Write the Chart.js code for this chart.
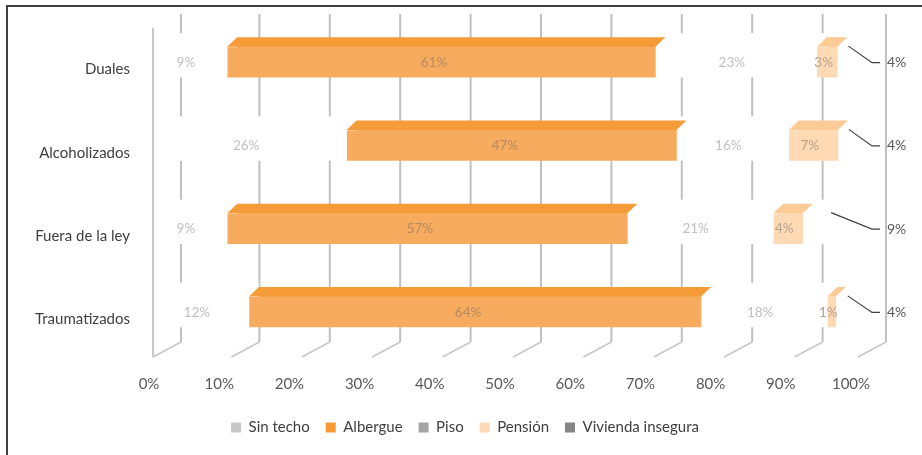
<!DOCTYPE html>
<html>
<head>
<meta charset="utf-8">
<script src="https://cdn.jsdelivr.net/npm/chart.js@4.4.0/dist/chart.umd.min.js"></script>
<style>
html,body{margin:0;padding:0;background:#fff;overflow:hidden}
#wrap{width:922px;height:455px;position:relative}
</style>
</head>
<body>
<div id="wrap"><canvas id="c" width="922" height="455"></canvas></div>
<script>
// ---- data ----
const categories = ['Duales', 'Alcoholizados', 'Fuera de la ley', 'Traumatizados'];
const seriesNames = ['Sin techo', 'Albergue', 'Piso', 'Pensión', 'Vivienda insegura'];
const sinTecho = [9, 26, 9, 12.1];
const albergue = [61, 47, 57, 64.4];
const piso = [23, 16, 20.8, 18];
const pension = [2.9, 7, 4.2, 1.2];
const viviendaInsegura = [4.1, 4, 9, 4.3];
const xTickValues = [0, 10, 20, 30, 40, 50, 60, 70, 80, 90, 100];

// ---- styles ----
const FONT = 'Lato, "Open Sans", sans-serif';
const frontColors = ['#FFFFFF', '#F7AB5E', '#FFFFFF', '#FDD9B4', '#FFFFFF'];
const topColors   = ['#FFFFFF', '#F59B37', '#FFFFFF', '#FCCA95', '#FFFFFF'];
const legendColors = ['#C8C8C8', '#F79A35', '#A5A5A5', '#FDDAB6', '#858585'];
const labelColors = ['#C0C0C0', '#B58A62', '#C0C0C0', '#B9A28C', '#595959'];
const seriesValues = [sinTecho, albergue, piso, pension, viviendaInsegura];

const DX = 10, DY = 9;

const threeD = {
  id: 'threeD',
  beforeDraw(chart) {
    const ctx = chart.ctx;
    ctx.save();
    ctx.fillStyle = '#fff';
    ctx.fillRect(0, 0, chart.width, chart.height);
    ctx.strokeStyle = '#404040';
    ctx.lineWidth = 2;
    ctx.beginPath();
    ctx.moveTo(7, chart.height);
    ctx.lineTo(7, 6);
    ctx.lineTo(chart.width, 6);
    ctx.stroke();
    ctx.restore();
  },
  beforeDatasetsDraw(chart) {
    const ctx = chart.ctx;
    const xs = chart.scales.x;
    const a = chart.chartArea;
    ctx.save();
    const backX = v => xs.getPixelForValue(v) + (v === 0 ? 17 : (v === 100 ? 20 : 25 + 0.02 * v));
    ctx.strokeStyle = '#C0C0C0';
    ctx.lineWidth = 2;
    xTickValues.forEach(v => {
      const bx = backX(v);
      ctx.beginPath();
      ctx.moveTo(bx, a.top - 6);
      ctx.lineTo(bx, a.bottom - 11);
      ctx.stroke();
    });
    ctx.strokeStyle = '#C8C8C8';
    ctx.lineWidth = 1.6;
    xTickValues.forEach(v => {
      const bx = backX(v);
      ctx.beginPath();
      ctx.moveTo(bx, a.bottom - 11);
      ctx.lineTo(bx - 28, a.bottom + 4);
      ctx.stroke();
    });
    ctx.strokeStyle = '#C8C8C8';
    ctx.lineWidth = 2;
    const lx = xs.getPixelForValue(0) - 11;
    ctx.beginPath();
    ctx.moveTo(lx, a.top + 8);
    ctx.lineTo(lx, a.bottom + 4);
    ctx.stroke();
    ctx.restore();
  },
  afterDatasetsDraw(chart) {
    const ctx = chart.ctx;
    const xs = chart.scales.x;
    const a = chart.chartArea;
    ctx.save();
    const drawTop = (di) => {
      const meta = chart.getDatasetMeta(di);
      meta.data.forEach(el => {
        const p = el.getProps(['x', 'y', 'base', 'height'], true);
        const l = Math.min(p.x, p.base), r = Math.max(p.x, p.base);
        const t = p.y - p.height / 2;
        if (topColors[di] === '#FFFFFF') {
          ctx.fillStyle = '#FFFFFF';
          ctx.fillRect(l, t - DY - 4, r - l + DX, DY + 5);
        }
        ctx.fillStyle = topColors[di];
        ctx.beginPath();
        ctx.moveTo(l, t + 0.5);
        ctx.lineTo(r, t + 0.5);
        ctx.lineTo(r + DX, t - DY);
        ctx.lineTo(l + DX, t - DY);
        ctx.closePath();
        ctx.fill();
      });
    };
    [0, 2, 4].forEach(drawTop);
    [1, 3].forEach(drawTop);

    const planeX = p => xs.getPixelForValue(p) - 10 + 0.07 * p;
    ctx.font = '13.5px ' + FONT;
    ctx.textAlign = 'center';
    ctx.textBaseline = 'middle';
    for (let di = 0; di < 4; di++) {
      const meta = chart.getDatasetMeta(di);
      meta.data.forEach((el, i) => {
        const v = seriesValues[di][i];
        let start = 0;
        for (let k = 0; k < di; k++) start += seriesValues[k][i];
        const c = start + v / 2;
        ctx.fillStyle = labelColors[di];
        ctx.fillText(Math.round(v) + '%', planeX(c), el.y + 1);
      });
    }
    const meta4 = chart.getDatasetMeta(4);
    meta4.data.forEach((el, i) => {
      const v = seriesValues[4][i];
      let start = 0;
      for (let k = 0; k < 4; k++) start += seriesValues[k][i];
      const c = start + v / 2;
      const sx = planeX(c), sy = el.y - el.height / 2;
      const ly = el.y + 1;
      ctx.strokeStyle = '#404040';
      ctx.lineWidth = 1.2;
      ctx.beginPath();
      ctx.moveTo(sx, sy);
      ctx.lineTo(a.right + 6, ly);
      ctx.lineTo(a.right + 14, ly);
      ctx.stroke();
      ctx.fillStyle = labelColors[4];
      ctx.font = '14px ' + FONT;
      ctx.textAlign = 'left';
      ctx.fillText(Math.round(v) + '%', a.right + 21, ly);
    });
    ctx.restore();
  }
};

const datasets = seriesNames.map((name, i) => ({
  label: name,
  data: seriesValues[i],
  backgroundColor: frontColors[i],
  borderWidth: 0,
  barThickness: 31
}));

new Chart(document.getElementById('c'), {
  type: 'bar',
  data: { labels: categories, datasets },
  options: {
    indexAxis: 'y',
    responsive: false,
    animation: false,
    devicePixelRatio: 1,
    layout: { padding: { left: 8, right: 0, top: 20, bottom: 10 } },
    scales: {
      x: {
        stacked: true,
        min: 0, max: 100,
        afterBuildTicks: s => { s.ticks = xTickValues.map(v => ({ value: v })); },
        afterFit: s => { s.height = 51; s.paddingLeft = 0; s.paddingRight = 0; },
        grid: { display: false, drawTicks: false },
        border: { display: false },
        ticks: {
          callback: v => v + '%',
          color: '#595959',
          font: { family: FONT, size: 15 },
          padding: 22,
          labelOffset: -15,
          autoSkip: false,
          maxRotation: 0
        }
      },
      y: {
        stacked: true,
        afterFit: s => { s.width = 156; s.paddingTop = 0; s.paddingBottom = 0; },
        grid: { display: false, drawTicks: false },
        border: { display: false },
        ticks: {
          color: '#404040',
          font: { family: FONT, size: 15 },
          padding: 34,
          labelOffset: 8
        }
      },
      yRight: {
        type: 'linear',
        position: 'right',
        display: true,
        afterFit: s => { s.width = 56; s.paddingTop = 0; s.paddingBottom = 0; },
        grid: { display: false, drawTicks: false },
        border: { display: false },
        ticks: { display: false }
      }
    },
    plugins: {
      tooltip: { enabled: false },
      legend: {
        position: 'bottom',
        labels: {
          font: { family: FONT, size: 15 },
          color: '#404040',
          boxWidth: 10,
          boxHeight: 10,
          padding: 16,
          generateLabels: chart => chart.data.datasets.map((d, i) => ({
            text: d.label,
            fillStyle: legendColors[i],
            strokeStyle: legendColors[i],
            lineWidth: 0,
            hidden: false,
            datasetIndex: i,
            fontColor: '#404040'
          }))
        }
      }
    }
  },
  plugins: [threeD]
});
</script>
</body>
</html>
